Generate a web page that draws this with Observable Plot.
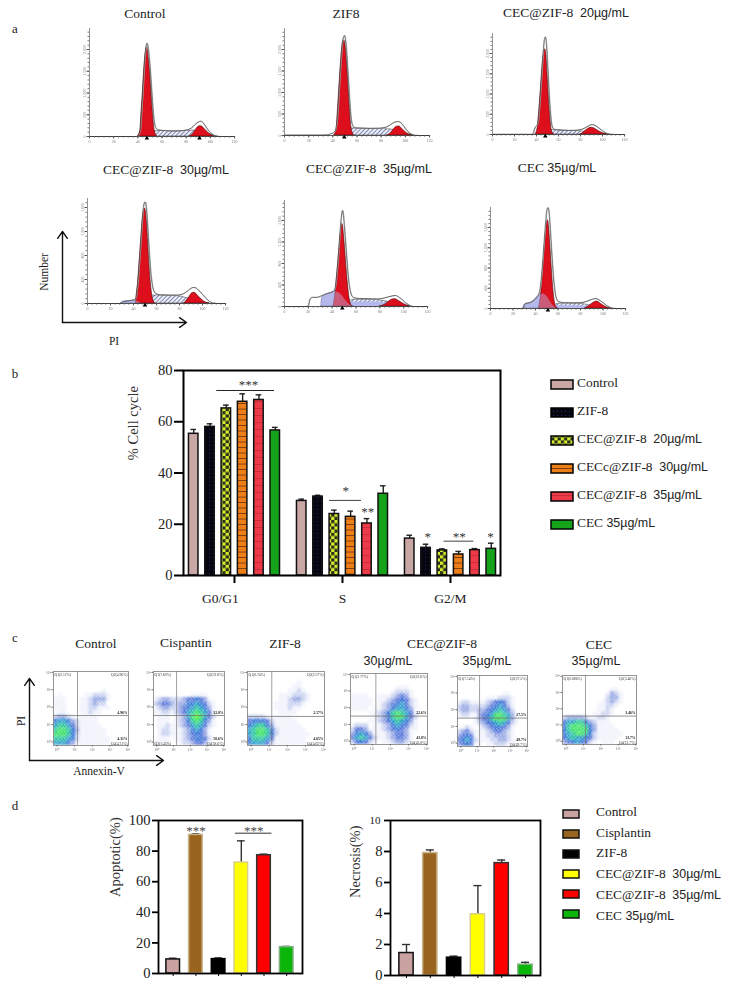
<!DOCTYPE html>
<html><head><meta charset="utf-8">
<script src="https://cdn.jsdelivr.net/npm/d3@7"></script>
<script src="https://cdn.jsdelivr.net/npm/@observablehq/plot@0.6"></script>
<style>
html,body{margin:0;padding:0;background:#fff}
#page{position:relative;width:733px;height:989px;overflow:hidden;font-family:"Liberation Serif",serif;color:#222}
#page svg.chart{position:absolute;background:none;overflow:visible}
#page svg.soft{filter:blur(.3px)}
.lab{position:absolute;white-space:pre;line-height:1;transform:translate(-50%,-50%)}
.lab.left{transform:translate(0,-50%)}
.lab.rot{transform:translate(-50%,-50%) rotate(-90deg)}
.lab span{font-family:"Liberation Sans",sans-serif;font-size:.93em}
</style></head><body>
<svg width="0" height="0" style="position:absolute"><defs>
<pattern id="hatch" width="3" height="3" patternUnits="userSpaceOnUse" patternTransform="rotate(45)"><rect width="3" height="3" fill="#eef0f8"/><rect width="1" height="3" fill="#7f84b4"/></pattern>
<pattern id="grain" width="7" height="7" patternUnits="userSpaceOnUse"><path fill="#fff" d="M0 0h1v1h-1zM3 0h1v1h-1zM5 1h1v1h-1zM1 2h1v1h-1zM4 2h1v1h-1zM6 3h1v1h-1zM2 3h1v1h-1zM0 4h1v1h-1zM3 4h1v1h-1zM5 5h1v1h-1zM1 5h1v1h-1zM3 6h1v1h-1zM6 6h1v1h-1z"/></pattern>
<pattern id="dots" width="4" height="4" patternUnits="userSpaceOnUse"><rect width="4" height="4" fill="#05060f"/><rect x="1" y="1" width="1" height="1" fill="#1c2a66"/></pattern>
<pattern id="check" width="6.4" height="6.4" patternUnits="userSpaceOnUse"><rect width="6.4" height="6.4" fill="#d9ec2c"/><rect width="3.2" height="3.2" fill="#27301c"/><rect x="3.2" y="3.2" width="3.2" height="3.2" fill="#27301c"/></pattern>
<pattern id="orangeLines" width="4" height="5.5" patternUnits="userSpaceOnUse"><rect width="4" height="5.5" fill="#ee7f16"/><rect y="4.6" width="4" height=".9" fill="#7a3a10"/></pattern>
<pattern id="redLines" width="4" height="7" patternUnits="userSpaceOnUse"><rect width="4" height="7" fill="#ec3a48"/><rect y="6.2" width="4" height=".8" fill="#c22a38"/></pattern>
</defs></svg>
<div id="page"></div>
<script>
// ---------- panel a: DNA histograms (x = PI channel, y = count) ----------
const controlG1=[[40,0],[42,130],[43,550],[44,950],[45,1420],[46,1800],[47,2000],[47.5,2050],[48,2030],[49,1800],[50,1500],[51,1100],[52,700],[53,350],[54,130],[56,0]];
const controlG2=[[83,0],[85,40],[87,110],[89,190],[91,235],[93,230],[95,180],[97,120],[99,70],[101,30],[103,8],[105,0]];
const controlS=[[44,0],[48,60],[52,100],[56,125],[60,130],[70,120],[80,130],[88,135],[96,100],[102,30],[106,0]];
const controlOut=[[0,0],[38,0],[40,10],[42,150],[43,570],[44,1000],[45,1480],[46,1900],[47,2120],[47.5,2145],[48,2110],[49,1900],[50,1600],[51,1200],[52,800],[53,450],[54,260],[55,190],[57,150],[60,140],[65,130],[70,125],[75,130],[80,150],[84,190],[87,270],[90,335],[92,350],[94,310],[96,230],[98,150],[100,90],[102,40],[105,8],[108,0],[120,0]];

const zifG1=[[41,0],[43,130],[44,500],[45,950],[46,1400],[47,1800],[48,2100],[49,2200],[49.5,2210],[50,2180],[51,1950],[52,1550],[53,1100],[54,650],[55,280],[56,100],[58,0]];
const zifG2=[[85,0],[87,30],[89,90],[91,160],[93,205],[95,210],[97,165],[99,110],[101,60],[103,25],[105,8],[107,0]];
const zifS=[[44,0],[48,90],[52,140],[56,165],[62,165],[70,155],[80,150],[88,140],[96,90],[102,30],[106,0]];
const zifOut=[[0,10],[30,10],[36,15],[38,40],[40,60],[42,120],[44,520],[45,1000],[46,1450],[47,1870],[48,2200],[49,2310],[49.5,2325],[50,2290],[51,2050],[52,1650],[53,1200],[54,750],[55,400],[56,260],[58,180],[62,170],[70,165],[78,170],[84,195],[88,260],[91,310],[94,325],[96,300],[98,240],[100,160],[102,90],[105,30],[108,5],[112,0],[120,0]];

const c20G1=[[39,0],[41,150],[42,420],[43,760],[44,1130],[45,1520],[46,1850],[47,2060],[48,2106],[49,1950],[50,1500],[51,1000],[52,600],[53,280],[54,90],[56,0]];
const c20G2=[[80,0],[82,30],[85,100],[88,155],[90,165],[92,155],[95,110],[98,60],[101,25],[104,5],[106,0]];
const c20S=[[42,0],[46,70],[50,100],[54,110],[60,105],[70,90],[78,85],[86,60],[94,40],[100,15],[104,0]];
const c20Out=[[0,5],[36,5],[37,40],[38,130],[39,190],[40,220],[41,260],[42,470],[43,820],[44,1220],[45,1640],[46,2040],[47,2340],[48,2410],[49,2200],[50,1720],[51,1180],[52,740],[53,400],[54,210],[56,130],[60,110],[70,100],[78,110],[83,150],[87,210],[90,245],[92,235],[95,190],[98,130],[101,70],[104,25],[108,5],[112,0],[120,0]];

const c30G1=[[42,0],[43,180],[44,350],[45,620],[46,880],[47,1150],[48,1400],[49,1550],[50,1583],[51,1500],[52,1250],[53,920],[54,600],[55,360],[56,180],[57,70],[59,0]];
const c30G2=[[84,0],[86,40],[88,90],[90,150],[92,178],[94,170],[96,130],[98,90],[100,55],[102,25],[104,8],[106,0]];
const c30S=[[44,0],[48,70],[52,110],[56,130],[62,135],[70,130],[80,120],[86,90],[94,60],[100,25],[106,0]];
const c30Apo=[[29,0],[31,30],[36,42],[40,50],[43,40],[46,10],[48,0]];
const c30Out=[[0,0],[29,0],[31,30],[36,45],[40,60],[42,90],[43,220],[44,400],[45,680],[46,950],[47,1240],[48,1510],[49,1660],[50,1694],[51,1610],[52,1360],[53,1040],[54,740],[55,500],[56,340],[57,240],[59,170],[63,145],[70,140],[78,140],[83,160],[87,210],[90,255],[92,267],[94,260],[97,210],[100,150],[103,85],[106,30],[110,5],[113,0],[120,0]];

const c35G1=[[41,0],[42,120],[43,300],[44,550],[45,800],[46,1070],[47,1320],[48,1500],[48.5,1537],[49,1510],[50,1300],[51,1030],[52,730],[53,470],[54,250],[55,100],[57,0]];
const c35G2=[[80,0],[84,30],[87,80],[90,125],[92,137],[94,130],[96,100],[99,60],[102,25],[105,0]];
const c35S=[[46,0],[52,70],[58,125],[70,125],[80,115],[88,80],[96,45],[102,15],[106,0]];
const c35Low=[[46,0],[52,60],[58,85],[70,85],[80,80],[88,60],[96,30],[100,0]];
const c35Apo=[[31,0],[31.5,150],[34,210],[38,245],[42,275],[45,260],[48,210],[50,150],[53,70],[56,15],[58,0]];
const c35Out=[[0,0],[18,0],[20,20],[21,120],[23,170],[27,170],[30,190],[34,230],[38,255],[40,270],[42,320],[43,420],[44,640],[45,900],[46,1220],[47,1530],[48,1740],[48.5,1787],[49,1760],[50,1530],[51,1240],[52,940],[53,650],[54,430],[55,300],[56,215],[58,165],[62,150],[70,145],[78,140],[84,160],[88,185],[91,200],[93,205],[96,170],[99,120],[102,60],[105,20],[108,0],[120,0]];

const cecG1=[[43,0],[44,120],[45,300],[46,560],[47,850],[48,1150],[49,1430],[50,1680],[51,1744],[52,1620],[53,1300],[54,950],[55,620],[56,340],[57,150],[58,50],[60,0]];
const cecG2=[[84,0],[87,40],[90,90],[93,130],[95,137],[97,110],[100,65],[103,25],[106,5],[108,0]];
const cecS=[[46,0],[54,50],[60,90],[70,100],[80,95],[88,60],[96,30],[104,0]];
const cecLow=[[52,0],[56,50],[65,55],[75,55],[85,40],[92,20],[100,0]];
const cecApo=[[29,0],[30,60],[31,90],[35,110],[38,145],[41,210],[44,270],[47,285],[50,240],[53,140],[56,50],[59,0]];
const cecOut=[[0,0],[29,0],[30,60],[31,95],[35,115],[38,150],[41,220],[43,300],[44,400],[45,580],[46,850],[47,1150],[48,1450],[49,1730],[50,1950],[51,1992],[52,1880],[53,1560],[54,1200],[55,870],[56,580],[57,370],[58,230],[60,140],[65,115],[72,110],[80,115],[85,140],[90,180],[93,196],[96,175],[99,130],[102,75],[105,35],[108,8],[112,0],[120,0]];

// ---------- panel b: cell cycle ----------
const cycleGroups=["G0/G1","S","G2/M"];
const cycleSeries=["Control","ZIF-8","CEC@ZIF-8  20µg/mL","CECc@ZIF-8  30µg/mL","CEC@ZIF-8  35µg/mL","CEC 35µg/mL"];
const cycleMeans=[[55.3,58,65.2,67.8,68.5,56.6],[29.1,30.8,24,22.9,20.3,31.9],[14.4,10.8,9.8,8.2,9.9,10.4]];
const cycleUpper=[[57,59.2,66.5,70.9,70.5,57.8],[29.8,31.3,25.5,25.1,22.2,35],[15.7,12.2,10.4,9.4,10.5,12.6]];
const cycleFills=["#c9a7a5","url(#dots)","url(#check)","url(#orangeLines)","url(#redLines)","#16a31c"];

// ---------- panel c: flow cytometry density (rows from the bottom up, level 0-8) ----------
const flowControl=["00000000000100000","01000001122210000","11100011233310000","11100011232200000","11100011221110000","01100011211000000","23321011110000000","56653211110000000","67764211111000000","78875311111100000","88875211111100000","77765211111110000","66653111111110000"];
const flowCisplatin=["00000000011110000","12332223445431000","23443233556542100","12332234567653100","11221234678764100","01110123689864200","01110123578753100","01121123467642100","01221112356531000","01221112345431000","01110112345542000","11110012234431000"];
const flowZif=["00000000000100000","00000000001100000","00000000011210000","00000001112221000","00000001123321000","00000011122210000","00000011121100000","00000001111000000","22221011110000000","45554211111000000","56775311111100000","67887521111110000","67887521111111000","57776411111110000","56664211111110000"];
const flowC30=["00000000001110000","00000000012221000","11110011123431000","11111011234542100","11111012345642100","11110112356653100","00001123578764100","00000123578864200","00001123467653100","12220112356542100","24431112345431100","35653111234431000","46764211234431000","24542101123321000"];
const flowC35=["00000000000110000","00000001112221000","12211112345421000","23322223456531000","23322334567642000","12211345688763100","00001345788863100","00001234567642100","01210123455431000","23421112344321000","34541112233321000","45652111223321000","34541101122211000"];
const flowCec=["00000000000110000","00000000001321000","00000000002331000","00000000012321000","00000000112210000","00000000112100000","00000001122100000","23333211221000000","46677532111000000","57888753111100000","57888853111110000","56788752111111000","46766542111110000","34565421011100000"];

// ---------- panel d ----------
const deathGroups=["Control","Cisplantin","ZIF-8","CEC@ZIF-8  30µg/mL","CEC@ZIF-8  35µg/mL","CEC 35µg/mL"];
const apoptoticMeans=[9.2,90.6,9.4,72.5,77.3,17.2];
const apoptoticUpper=[10,91.3,10.2,86.7,78,17.7];
const necrosisMeans=[1.45,7.9,1.15,3.95,7.25,0.7];
const necrosisUpper=[2,8.1,1.25,5.8,7.45,0.85];
const deathFills=["#c9a3a1","#98641f","#000000","#ffff00","#ff0000","#0ab60a"];
const deathStrokes=["#111","#c9b48a","#000","#d8cf8c","#333","#7fb07f"];

const page=document.getElementById("page");
const serif={fontFamily:'"Liberation Serif",serif',background:"none",overflow:"visible"};
const place=(svg,left,top,soft)=>{svg.classList.add("chart");if(soft)svg.classList.add("soft");svg.style.left=left+"px";svg.style.top=top+"px";page.appendChild(svg);return svg;};
const label=(text,x,y,size,cls="")=>{const d=document.createElement("div");d.className="lab "+cls;d.style.left=x+"px";d.style.top=y+"px";d.style.fontSize=size+"px";
  const m=text.match(/^(.*?)(\d+µg\/mL)$/);if(m){d.textContent=m[1];const s=document.createElement("span");s.textContent=m[2];d.appendChild(s);}else d.textContent=text;page.appendChild(d);};
const X=d=>d[0],Y=d=>d[1];
const C="monotone-x";

// ---------- histogram panel ----------
function hist({x0,x1,base,top,yMax,yStep,g1,g2,s,low,apo,out,peaks}){
  const mL=12,mT=2,mB=10,mR=5;
  const marks=[
    Plot.areaY(s,{x:X,y:Y,fill:"url(#hatch)",stroke:"#333",strokeWidth:.5,curve:C})];
  if(low)marks.push(Plot.areaY(low,{x:X,y:Y,fill:"#b4b8ec",curve:C}));
  if(apo)marks.push(Plot.areaY(apo,{x:X,y:Y,fill:"#b4b8ec",stroke:"#33336a",strokeWidth:.5,curve:C}));
  marks.push(
    Plot.areaY(g1,{x:X,y:Y,fill:"#dd0f1c",stroke:"#4a0a0a",strokeWidth:.6,curve:C}),
    Plot.areaY(g2,{x:X,y:Y,fill:"#dd0f1c",stroke:"#4a0a0a",strokeWidth:.6,curve:C}));
  if(apo)marks.push(Plot.areaY(apo,{x:X,y:Y,fill:"#b4b8ec",fillOpacity:.45,curve:C}));
  marks.push(
    Plot.lineY(out,{x:X,y:Y,stroke:"#a8a8a8",strokeWidth:1,curve:C,dx:.5}),
    Plot.lineY(out,{x:X,y:Y,stroke:"#333",strokeWidth:.55,curve:C}),
    Plot.ruleY([0],{stroke:"#333",strokeWidth:.8}),
    Plot.ruleX([0],{stroke:"#777",strokeWidth:.8}),
    Plot.axisX({ticks:d3.range(0,121,4),tickSize:1.5,tickFormat:()=>"",stroke:"#555"}),
    Plot.axisX({ticks:d3.range(0,121,20),tickSize:2.5,tickPadding:1.5,fontSize:4,fill:"#777",stroke:"#555"}),
    Plot.axisY({ticks:d3.range(0,yMax,yStep/5),tickSize:1.5,tickFormat:()=>"",stroke:"#777"}),
    Plot.axisY({ticks:d3.range(0,yMax,yStep),tickSize:2.5,tickPadding:1.5,fontSize:4,fill:"#777",stroke:"#555",tickRotate:-90}),
    Plot.dot(peaks,{x:d=>d,y:()=>0,symbol:"triangle",r:1.7,fill:"#000",dy:1.8}));
  place(Plot.plot({style:serif,width:x1-x0+mL+mR,height:base-top+mT+mB,marginLeft:mL,marginRight:mR,marginTop:mT,marginBottom:mB,
    x:{domain:[0,120],axis:null},y:{domain:[0,yMax],axis:null},marks}),x0-mL,top-mT,true);
}
hist({x0:89,x1:234,base:136,top:28,yMax:2483,yStep:500,g1:controlG1,g2:controlG2,s:controlS,out:controlOut,peaks:[47.5,91]});
hist({x0:284,x1:429,base:135,top:28,yMax:2488,yStep:500,g1:zifG1,g2:zifG2,s:zifS,out:zifOut,peaks:[49.5]});
hist({x0:492,x1:624,base:134,top:33,yMax:2494,yStep:500,g1:c20G1,g2:c20G2,s:c20S,out:c20Out,peaks:[48]});
hist({x0:87,x1:225,base:303,top:198,yMax:1750,yStep:400,g1:c30G1,g2:c30G2,s:c30S,apo:c30Apo,out:c30Out,peaks:[50]});
hist({x0:284,x1:427,base:306,top:200,yMax:1971,yStep:400,g1:c35G1,g2:c35G2,s:c35S,low:c35Low,apo:c35Apo,out:c35Out,peaks:[48.5]});
hist({x0:490,x1:625,base:308,top:207,yMax:1995,yStep:400,g1:cecG1,g2:cecG2,s:cecS,low:cecLow,apo:cecApo,out:cecOut,peaks:[51]});

// ---------- panel b ----------
const slotX=(g,i)=>g+(i-2.5)*.151;
{
  const marks=[];
  cycleSeries.forEach((name,i)=>{
    const rows=cycleGroups.map((g,k)=>({g:k,m:cycleMeans[k][i],u:cycleUpper[k][i]}));
    marks.push(
      Plot.ruleX(rows,{x:d=>slotX(d.g,i),y1:"m",y2:"u",stroke:"#222",strokeWidth:1.4}),
      Plot.ruleY(rows,{y:"u",x1:d=>slotX(d.g,i)-.026,x2:d=>slotX(d.g,i)+.026,stroke:"#222",strokeWidth:1.4}),
      Plot.rectY(rows,{x1:d=>slotX(d.g,i)-.044,x2:d=>slotX(d.g,i)+.044,y1:0,y2:"m",fill:cycleFills[i],stroke:"#111",strokeWidth:1.5}));
  });
  const star=(txt,x,v)=>Plot.text([txt],{x:()=>x,y:()=>v,text:d=>d,fontSize:13,fill:"#333",dy:2});
  marks.push(
    Plot.frame({stroke:"#000",strokeWidth:2}),
    Plot.axisY({ticks:[0,20,40,60,80],tickSize:9,tickPadding:2,fontSize:14.5,stroke:"#000",strokeWidth:2,fill:"#222"}),
    Plot.axisX({ticks:[0,1,2],tickSize:8,tickFormat:()=>"",stroke:"#000",strokeWidth:2}),
    Plot.text([cycleGroups[0]],{x:()=>0,y:()=>0,text:d=>d,dx:-14,dy:23,fontSize:13.5,fill:"#222"}),
    Plot.text(cycleGroups.slice(1),{x:(d,i)=>i+1,y:()=>0,text:d=>d,dy:23,fontSize:13.5,fill:"#222"}),
    Plot.text(["% Cell cycle"],{y:()=>45,text:d=>d,frameAnchor:"left",dx:-50,rotate:-90,fontSize:14.5,fill:"#333"}),
    Plot.ruleY([72.2],{x1:-.164,x2:.37,stroke:"#222",strokeWidth:1}),
    Plot.ruleY([29.3],{x1:.88,x2:1.176,stroke:"#444",strokeWidth:1}),
    Plot.ruleY([13.4],{x1:1.94,x2:2.216,stroke:"#444",strokeWidth:1}),
    star("***",.13,75),star("*",1.03,34),star("**",1.235,25.5),star("**",2.08,16),star("*",1.79,16),star("*",2.37,16));
  place(Plot.plot({style:serif,width:390,height:250,marginLeft:63,marginRight:10,marginTop:10,marginBottom:35,
    x:{domain:[-.472,2.463],axis:null,label:null},y:{domain:[0,80],axis:null,label:null},marks}),120,360);
}
// legend b
place(Plot.plot({style:serif,width:28,height:168,margin:0,marginLeft:3,marginRight:3,x:{domain:[0,1],axis:null},y:{domain:cycleSeries,axis:null,paddingInner:.68,paddingOuter:.34},
  marks:cycleSeries.map((n,i)=>Plot.barX([n],{x1:0,x2:1,y:d=>d,fill:cycleFills[i],stroke:"#000",strokeWidth:1.5}))}),548,370);
cycleSeries.forEach((n,i)=>label(n,577,383+i*28,13.4,"left"));

// ---------- panel c ----------
function flow({left,right,top,bottom,v,h,grid,q1,q2,q4,extra}){
  const xd=[-.2,4.05],yd=[-.2,4.05],step=.25;
  const mL=13,mR=3,mT=3,mB=10;
  const n=17,rows=grid.length,cells=[];
  grid.forEach((row,r)=>[...row].forEach((ch,c)=>{const lv=+ch;if(lv>0)cells.push({c,r:n-rows+r,lv});}));
  const sup=["⁰","¹","²","³","⁴"];
  const tiny={fontSize:3.7,fill:"#333"};
  const marks=[
    Plot.rect(cells,{x1:d=>xd[0]+d.c*step,x2:d=>xd[0]+(d.c+1)*step,y1:d=>yd[1]-d.r*step,y2:d=>yd[1]-(d.r+1)*step,fill:"lv",clip:"frame",imageFilter:"blur(1px)"}),
    Plot.frame({fill:"url(#grain)",fillOpacity:.6}),
    Plot.frame({stroke:"#8a8a8a",strokeWidth:.9}),
    Plot.ruleX([v],{stroke:"#777",strokeWidth:.7}),
    Plot.ruleY([h],{stroke:"#666",strokeWidth:.7}),
    Plot.axisX({ticks:[0,1,2,3,4],tickSize:1.5,tickPadding:1,tickFormat:d=>"10"+sup[d],fontSize:3.7,fill:"#666",stroke:"#666"}),
    Plot.axisY({ticks:[0,1,2,3,4],tickSize:1.5,tickPadding:1,tickFormat:d=>"10"+sup[d],fontSize:3.7,fill:"#666",stroke:"#666"}),
    Plot.text(["Q1("+q1+")"],{frameAnchor:"top-left",dx:1,dy:1.5,text:d=>d,...tiny}),
    Plot.text(["Q2("+q2+")"],{frameAnchor:"top-right",dx:-1,dy:1.5,text:d=>d,...tiny}),
    Plot.text(["Q4("+q4+")"],{frameAnchor:"bottom-right",dx:-1,dy:-.5,text:d=>d,...tiny}),
    Plot.text([q2],{y:()=>h+.18,frameAnchor:"right",dx:-1,text:d=>d,fontWeight:"bold",fontSize:3.7,fill:"#111"}),
    Plot.text([q4],{frameAnchor:"bottom-right",dx:-1,dy:-5.5,text:d=>d,fontWeight:"bold",fontSize:3.7,fill:"#111"})];
  if(extra)marks.push(Plot.text(["Q3("+extra+")"],{frameAnchor:"bottom-left",dx:1,dy:-.5,text:d=>d,...tiny}));
  place(Plot.plot({style:serif,width:right-left+mL+mR,height:bottom-top+mT+mB,marginLeft:mL,marginRight:mR,marginTop:mT,marginBottom:mB,
    x:{domain:xd,axis:null},y:{domain:yd,axis:null},
    color:{type:"linear",domain:[0,1,2,3,4,5,6,7,8],range:["#ffffff","#f0f2fb","#c6cfef","#8fa1e2","#4a6bd6","#2a6ed4","#1f9cc8","#1fc49a","#35e060"]},marks}),left-mL,top-mT,true);
}
flow({left:53,right:128,top:671,bottom:745,v:1.16,h:1.52,grid:flowControl,q1:"2.12%",q2:"4.96%",q4:"4.31%"});
flow({left:153,right:224,top:671,bottom:745,v:1.18,h:1.52,grid:flowCisplatin,q1:"7.60%",q2:"32.8%",q4:"58.6%",extra:"1.45%"});
flow({left:247,right:324,top:671,bottom:745,v:1.14,h:1.47,grid:flowZif,q1:"0.74%",q2:"2.57%",q4:"4.65%"});
flow({left:350,right:427,top:673,bottom:744,v:1.2,h:1.5,grid:flowC30,q1:"2.77%",q2:"22.6%",q4:"43.8%"});
flow({left:457,right:527,top:675,bottom:746,v:1.14,h:1.5,grid:flowC35,q1:"7.14%",q2:"27.5%",q4:"49.7%"});
flow({left:562,right:636,top:675,bottom:744,v:1.12,h:1.55,grid:flowCec,q1:"0.886%",q2:"3.46%",q4:"13.7%"});

// ---------- panel d ----------
function death({left,right,top,base,yMax,ticks,means,upper,title,titleX,extra,smallTop}){
  const step=right-left>146?23.8:22.7,first=right-left>146?406:172.7;
  const xd=[(left-first)/step,(right-first)/step];
  const rows=means.map((m,i)=>({i,m,u:upper[i]}));
  const marks=[];
  marks.push(
    Plot.ruleX(rows,{x:"i",y1:"m",y2:"u",stroke:"#333",strokeWidth:1.4}),
    Plot.ruleY(rows,{y:"u",x1:d=>d.i-.17,x2:d=>d.i+.17,stroke:"#333",strokeWidth:1.4}),
    Plot.rectY(rows,{x1:d=>d.i-.3,x2:d=>d.i+.3,y1:0,y2:"m",fill:d=>deathFills[d.i],stroke:d=>deathStrokes[d.i],strokeWidth:1.5}),
    Plot.frame({stroke:"#000",strokeWidth:1.8}),
    Plot.axisX({ticks:d3.range(6),tickSize:3,tickFormat:()=>"",stroke:"#000",label:null}),
    Plot.axisY({ticks:ticks,tickSize:6,tickPadding:2,fontSize:14.5,stroke:"#000",strokeWidth:1.8,fill:"#222",label:null}),
    ...extra);
  if(smallTop)marks.push(Plot.axisY({ticks:[yMax],tickSize:6,tickPadding:4,fontSize:11,stroke:"#000",strokeWidth:1.8,fill:"#222",label:null}));
  marks.push(Plot.text([title],{y:()=>yMax*.5,text:d=>d,frameAnchor:"left",dx:titleX,rotate:-90,fontSize:14.5,fill:"#333"}));
  place(Plot.plot({style:serif,width:right-left+50,height:base-top+20,marginLeft:40,marginRight:10,marginTop:5,marginBottom:15,
    color:{type:"identity"},x:{domain:xd,axis:null,label:null},y:{domain:[0,yMax],axis:null,label:null},marks}),left-40,top-5);
}
const starD=(x,v)=>Plot.text(["***"],{x:()=>x,y:()=>v,text:d=>d,fontSize:13,fill:"#444",dy:2});
death({left:158,right:302,top:820,base:973,yMax:100,ticks:[0,20,40,60,80,100],means:apoptoticMeans,upper:apoptoticUpper,title:"Apoptotic(%)",titleX:-43,
  extra:[Plot.ruleY([91.7],{x1:2.74,x2:4.35,stroke:"#333",strokeWidth:1}),starD(1,94.5),starD(3.55,94.5)]});
death({left:390,right:540,top:820,base:975,yMax:10,ticks:[0,2,4,6,8],means:necrosisMeans,upper:necrosisUpper,title:"Necrosis(%)",titleX:-35,extra:[],smallTop:true});
// legend d
place(Plot.plot({style:serif,width:22,height:124,margin:0,marginLeft:3,marginRight:3,x:{domain:[0,1],axis:null},y:{domain:deathGroups,axis:null,paddingInner:.6,paddingOuter:.3},
  marks:deathGroups.map((n,i)=>Plot.barX([n],{x1:0,x2:1,y:d=>d,fill:deathFills[i],stroke:"#111",strokeWidth:1.5}))}),560,802);
deathGroups.forEach((n,i)=>label(n,596,812+i*20.7,13.4,"left"));

// ---------- arrows ----------
place(Plot.plot({style:serif,width:733,height:989,margin:0,x:{domain:[0,733],axis:null},y:{domain:[0,989],range:[0,989],axis:null},
  marks:[Plot.arrow([[62,322,62,231],[62,322,186,322],[29,760,29,678],[29,760,163,760]],{x1:d=>d[0],y1:d=>d[1],x2:d=>d[2],y2:d=>d[3],stroke:"#111",strokeWidth:1.4,headLength:9,headAngle:70})]}),0,0);

// ---------- text ----------
label("a",15,28,13);label("b",15,373,13);label("c",15,637,13);label("d",15,805,13);
label("Control",145,14,13.5);label("ZIF8",346,14,13.5);label("CEC@ZIF-8  20µg/mL",566,13,13.5);
label("CEC@ZIF-8  30µg/mL",166,170,13.5);label("CEC@ZIF-8  35µg/mL",369,169,13.5);label("CEC 35µg/mL",557,168,13.5);
label("Number",45,272,11.5,"rot");label("PI",114,342,11.5);
label("Control",96,644,13.5);label("Cispantin",186,643,13.5);label("ZIF-8",285,644,13.5);
label("CEC@ZIF-8",442,644,13.5);label("30µg/mL",388,661,13.5);label("35µg/mL",487,661,13.5);
label("CEC",599,645,13.5);label("35µg/mL",596,661,13.5);
label("PI",22,721,11.5,"rot");label("Annexin-V",99,772,11.5);
</script>
</body></html>
